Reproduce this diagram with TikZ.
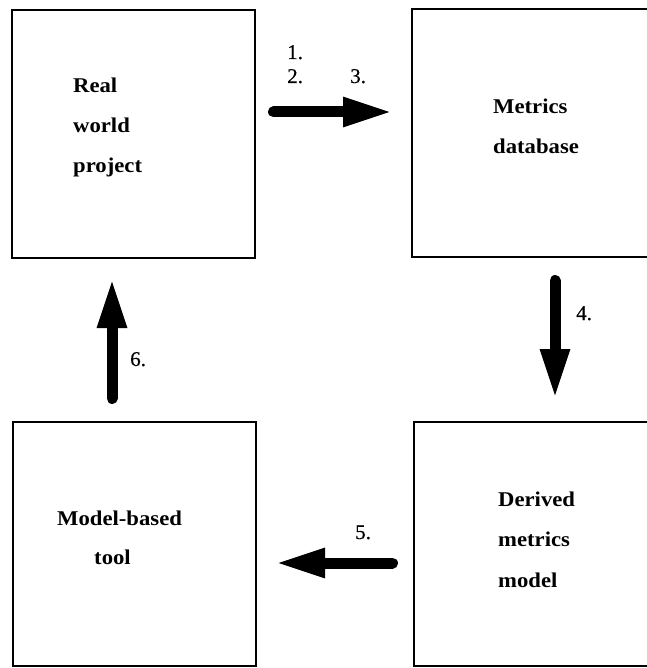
\documentclass[tikz,border=0pt]{standalone}
\usepackage{fontspec}
\setmainfont{Liberation Serif}
\newfontfamily\boxfont[FakeStretch=1.08]{Liberation Serif}
\newfontfamily\numfont[FakeBold=0.4]{Liberation Serif}
\usetikzlibrary{arrows.meta}
\tikzset{
  stage/.style={draw, line width=2.5pt, inner sep=0pt},
  boxtext/.style={font=\boxfont\bfseries\fontsize{21}{21}\selectfont, anchor=base west, inner sep=0pt},
  numtext/.style={font=\numfont\fontsize{21}{21}\selectfont, anchor=base west, inner sep=0pt},
  flow/.style={line width=11pt, line cap=round, -{Triangle[length=50pt,width=27pt]}}
}
\begin{document}
\begin{tikzpicture}[x=1pt,y=-1pt]
\useasboundingbox (0,0) rectangle (646,668);
% boxes
\node[stage, minimum width=243pt, minimum height=248pt] (rw) at (133.5,134) {};
\node[stage, minimum width=250pt, minimum height=248pt] (md) at (537,133) {};
\node[stage, minimum width=243pt, minimum height=244pt] (mb) at (134.5,544) {};
\node[stage, minimum width=250pt, minimum height=244pt] (dm) at (539,544) {};
% box texts
\node[boxtext] (t1a) at (73,93) {Real};
\node[boxtext] (t1b) at (73,133) {world};
\node[boxtext] (t1c) at (73,173) {project};
\node[boxtext] (t2a) at (493,114) {Metrics};
\node[boxtext] (t2b) at (493,154) {database};
\node[boxtext] (t3a) at (498,506) {Derived};
\node[boxtext] (t3b) at (498,546) {metrics};
\node[boxtext] (t3c) at (498,587) {model};
\node[boxtext] (t4a) at (57,525) {Model-based};
\node[boxtext] (t4b) at (94,564) {tool};
% arrow end points
\coordinate (a3s) at (273.5,112);
\coordinate (a3e) at (393,112);
\coordinate (a4s) at (555,280.5);
\coordinate (a4e) at (555,399);
\coordinate (a5s) at (392.5,563);
\coordinate (a5e) at (275,563);
\coordinate (a6s) at (112,398.5);
\coordinate (a6e) at (112,278);
% arrows
\draw[flow] (a3s) -- (a3e);
\draw[flow] (a4s) -- (a4e);
\draw[flow] (a5s) -- (a5e);
\draw[flow] (a6s) -- (a6e);
% step labels
\node[numtext] (n1) at (287,59) {1.};
\node[numtext] (n2) at (287,83) {2.};
\node[numtext] (n3) at (350,83) {3.};
\node[numtext] (n4) at (576,320) {4.};
\node[numtext] (n5) at (355,539) {5.};
\node[numtext] (n6) at (130,366) {6.};
\end{tikzpicture}
\end{document}
